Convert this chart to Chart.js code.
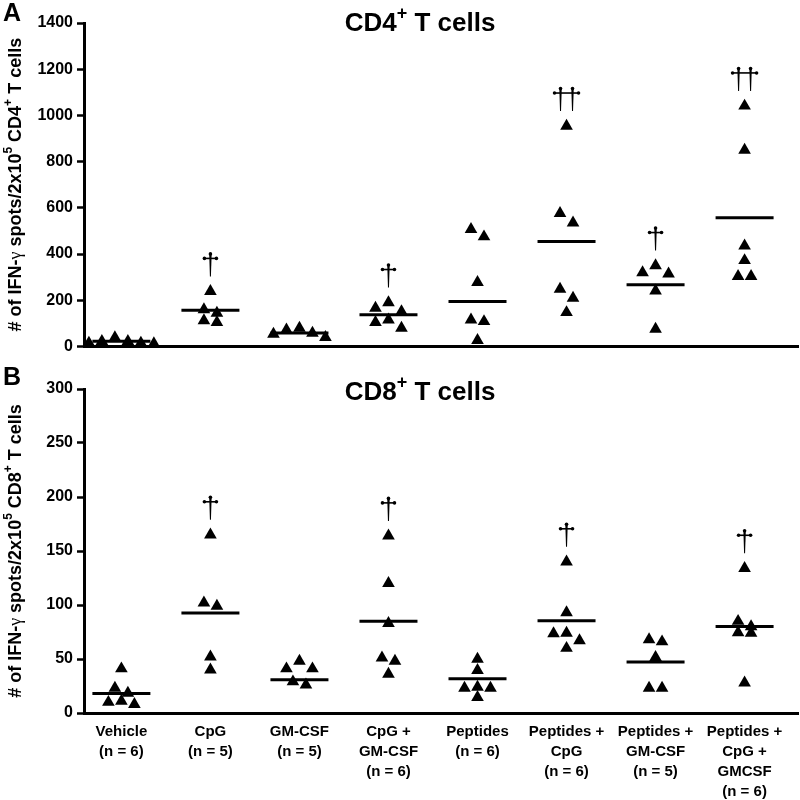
<!DOCTYPE html>
<html>
<head>
<meta charset="utf-8">
<script src="https://cdn.jsdelivr.net/npm/chart.js@4.4.1/dist/chart.umd.min.js"></script>
<style>
  html, body { margin: 0; padding: 0; background: #fff; }
  #wrap { position: relative; width: 800px; height: 800px; }
  .panel { position: absolute; left: 0; width: 800px; }
</style>
</head>
<body>
<div id="wrap">
  <div class="panel" style="top:0;height:360px"><canvas id="cd4"></canvas></div>
  <div class="panel" style="top:360px;height:440px"><canvas id="cd8"></canvas></div>
</div>
<script>
const groups = ['Vehicle', 'CpG', 'GM-CSF', 'CpG+GM-CSF', 'Peptides', 'Peptides+CpG', 'Peptides+GM-CSF', 'Peptides+CpG+GMCSF'];
const groupLabels = [
  ['Vehicle', '(n = 6)'],
  ['CpG', '(n = 5)'],
  ['GM-CSF', '(n = 5)'],
  ['CpG +', 'GM-CSF', '(n = 6)'],
  ['Peptides', '(n = 6)'],
  ['Peptides +', 'CpG', '(n = 6)'],
  ['Peptides +', 'GM-CSF', '(n = 5)'],
  ['Peptides +', 'CpG +', 'GMCSF', '(n = 6)']
];

// CD4+ panel (spots per 2x10^5 cells)
const cd4Spots = [
  [12, 15, 15, 22, 22, 38],
  [104, 112, 144, 159, 238],
  [39, 53, 58, 72, 79],
  [79, 104, 115, 151, 166, 190],
  [26, 108, 115, 277, 475, 507],
  [147, 209, 248, 535, 576, 954],
  [75, 241, 314, 320, 350],
  [303, 303, 372, 435, 850, 1041]
];
const cd4Means = [22, 156, 58, 137, 194, 454, 267, 557];
const cd4Daggers = [0, 1, 0, 1, 0, 2, 1, 2];
const cd4Ticks = [0, 200, 400, 600, 800, 1000, 1200, 1400];

// CD8+ panel
const cd8Spots = [
  [8, 10, 11, 18.5, 23, 41],
  [40, 52, 99, 102, 165],
  [26, 29, 41, 41, 48],
  [36, 48, 51, 83, 120, 164],
  [14.5, 23, 23, 24, 39.5, 50],
  [60, 67, 73.5, 74, 93, 140],
  [23, 23, 51.5, 66, 68],
  [28, 74, 74.5, 80, 85, 134]
];
const cd8Means = [18, 92.6, 30.8, 85, 31.8, 85.5, 47.2, 80.2];
const cd8Daggers = [0, 1, 0, 1, 0, 1, 0, 1];
const cd8Ticks = [0, 50, 100, 150, 200, 250, 300];

const SANS = "'Liberation Sans', Arial, sans-serif";
const PLOT_H = 324;     // plot height in px, used to size the swarm rows
const X_MIN = -0.42, X_MAX = 7.6;
const STEP_W = 0.146;   // horizontal step between neighbouring triangles

// simple row based swarm: points closer than ~10px share a row
function swarm(values, yMax) {
  const h = 10 * yMax / PLOT_H;
  const sorted = values.slice().sort((a, b) => b - a);
  const rows = [];
  sorted.forEach(v => {
    const row = rows[rows.length - 1];
    if (row && row[0] - v < h) row.push(v); else rows.push([v]);
  });
  const out = [];
  rows.forEach(row => {
    const k = row.length;
    const offs = row.map((_, j) => (j - (k - 1) / 2) * STEP_W)
      .sort((a, b) => Math.abs(a) - Math.abs(b) || a - b);
    row.forEach((v, j) => out.push({ dx: offs[j], y: v }));
  });
  return out;
}

function fontOf(r, size) {
  if (r.sup) return 'bold ' + Math.round(size * 0.68) + 'px ' + SANS;
  if (r.plain) return size + "px 'Liberation Serif', serif";
  return 'bold ' + size + 'px ' + SANS;
}

function drawRuns(ctx, runs, x, y, size) {
  let total = 0;
  runs.forEach(r => { ctx.font = fontOf(r, size); total += ctx.measureText(r.t).width; });
  let cx = x - total / 2;
  ctx.textAlign = 'left';
  ctx.textBaseline = 'middle';
  runs.forEach(r => {
    ctx.font = fontOf(r, size);
    ctx.fillText(r.t, cx, y + (r.sup ? -size * 0.4 : 0));
    cx += ctx.measureText(r.t).width;
  });
}

function drawDagger(ctx, xs, yBottom) {
  const top = yBottom - 24;
  const bar = top + 6;
  ctx.save();
  ctx.strokeStyle = '#000';
  ctx.fillStyle = '#000';
  xs.forEach(x => {
    ctx.beginPath();
    ctx.moveTo(x - 1.2, top + 2);
    ctx.lineTo(x + 1.2, top + 2);
    ctx.lineTo(x + 0.5, yBottom);
    ctx.lineTo(x - 0.5, yBottom);
    ctx.closePath();
    ctx.fill();
    ctx.beginPath();
    ctx.arc(x, top + 1.5, 1.8, 0, Math.PI * 2);
    ctx.fill();
  });
  const left = xs[0] - 6, right = xs[xs.length - 1] + 6;
  ctx.lineWidth = 1.6;
  ctx.beginPath();
  ctx.moveTo(left, bar);
  ctx.lineTo(right, bar);
  ctx.stroke();
  [left, right].forEach(x => {
    ctx.beginPath();
    ctx.arc(x, bar, 1.8, 0, Math.PI * 2);
    ctx.fill();
  });
  ctx.restore();
}

function decor(opts) {
  return {
    id: 'decor',
    afterDraw(chart) {
      const { ctx, chartArea, scales } = chart;
      ctx.save();
      ctx.fillStyle = '#000';
      // panel letter
      ctx.font = 'bold 25px ' + SANS;
      ctx.textAlign = 'left';
      ctx.textBaseline = 'middle';
      ctx.fillText(opts.letter, 3, opts.letterY);
      // panel title
      drawRuns(ctx, opts.title, 420, opts.titleY, 26);
      // y axis title
      ctx.save();
      ctx.translate(16, (chartArea.top + chartArea.bottom) / 2);
      ctx.rotate(-Math.PI / 2);
      drawRuns(ctx, opts.yTitle, 0, 0, 18);
      ctx.restore();
      // significance daggers above the highest point of each group
      opts.daggers.forEach((n, i) => {
        if (!n) return;
        const cx = scales.x.getPixelForValue(i);
        const yTop = scales.y.getPixelForValue(Math.max(...opts.spots[i]));
        const xs = n === 1 ? [cx] : [cx - 6, cx + 6];
        drawDagger(ctx, xs, yTop - 15);
      });
      ctx.restore();
    }
  };
}

function makeChart(id, spots, means, ticks, daggers, opts) {
  const yMax = ticks[ticks.length - 1];
  const pts = [];
  spots.forEach((vals, i) => {
    swarm(vals, yMax).forEach(p => pts.push({ x: i + p.dx, y: p.y }));
  });
  const meanPts = means.map((m, i) => ({ x: i, y: m }));

  return new Chart(document.getElementById(id), {
    type: 'scatter',
    data: {
      datasets: [
        {
          data: pts,
          pointStyle: 'triangle',
          pointRadius: 7.3,
          backgroundColor: '#000',
          borderColor: '#000',
          borderWidth: 0,
          clip: false
        },
        {
          data: meanPts,
          pointStyle: 'line',
          pointRadius: 29,
          borderColor: '#000',
          borderWidth: 3,
          clip: false
        }
      ]
    },
    options: {
      responsive: true,
      maintainAspectRatio: false,
      animation: false,
      events: [],
      layout: { autoPadding: false, padding: { top: opts.padTop, right: 2, left: 0, bottom: 0 } },
      plugins: { legend: { display: false }, tooltip: { enabled: false } },
      scales: {
        x: {
          type: 'linear',
          min: X_MIN,
          max: X_MAX,
          afterBuildTicks: s => { s.ticks = groups.map((_, i) => ({ value: i })); },
          afterFit: s => { s.height = opts.xHeight; },
          grid: { display: true, drawOnChartArea: false, drawTicks: false },
          border: { display: true, color: '#000', width: 3 },
          ticks: {
            display: opts.showX,
            autoSkip: false,
            maxRotation: 0,
            padding: 9,
            color: '#000',
            font: { family: SANS, weight: 'bold', size: 15, lineHeight: 1.34 },
            callback: v => groupLabels[v]
          }
        },
        y: {
          min: 0,
          max: yMax,
          afterBuildTicks: s => { s.ticks = ticks.map(v => ({ value: v })); },
          afterFit: s => { s.width = 84; },
          grid: { display: true, drawOnChartArea: false, drawTicks: true, tickLength: 7, tickWidth: 2.5, tickColor: '#000' },
          border: { display: true, color: '#000', width: 3 },
          ticks: {
            padding: 4,
            color: '#000',
            font: { family: SANS, weight: 'bold', size: 16 },
            callback: v => String(v)
          }
        }
      }
    },
    plugins: [decor(Object.assign({ spots, daggers }, opts))]
  });
}

makeChart('cd4', cd4Spots, cd4Means, cd4Ticks, cd4Daggers, {
  padTop: 23, xHeight: 13, showX: false,
  letter: 'A', letterY: 14, titleY: 24,
  title: [{ t: 'CD4' }, { t: '+', sup: true }, { t: ' T cells' }],
  yTitle: [{ t: '# of IFN-' }, { t: 'γ', plain: true }, { t: ' spots/2x10' }, { t: '5', sup: true },
           { t: ' CD4' }, { t: '+', sup: true }, { t: ' T cells' }]
});

makeChart('cd8', cd8Spots, cd8Means, cd8Ticks, cd8Daggers, {
  padTop: 29, xHeight: 87, showX: true,
  letter: 'B', letterY: 18, titleY: 33,
  title: [{ t: 'CD8' }, { t: '+', sup: true }, { t: ' T cells' }],
  yTitle: [{ t: '# of IFN-' }, { t: 'γ', plain: true }, { t: ' spots/2x10' }, { t: '5', sup: true },
           { t: ' CD8' }, { t: '+', sup: true }, { t: ' T cells' }]
});
</script>
</body>
</html>
